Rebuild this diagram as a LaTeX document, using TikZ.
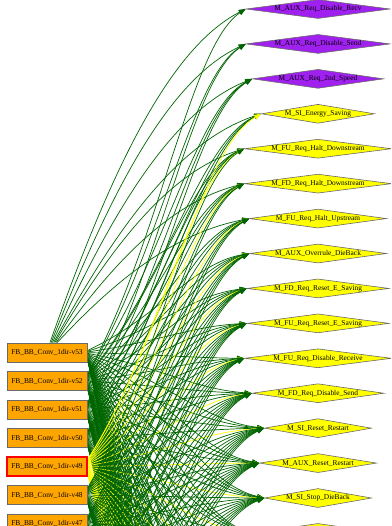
\documentclass[tikz,border=0pt]{standalone}
\usepackage{fontspec}
\setmainfont{Liberation Serif}
\usetikzlibrary{shapes.geometric,arrows.meta}
\pgfdeclarelayer{wires}
\pgfsetlayers{wires,main}
\definecolor{fbfill}{HTML}{FFA500}
\definecolor{lineg}{HTML}{006400}
\definecolor{liney}{HTML}{FFFF00}
\definecolor{purp}{HTML}{A020F0}
\definecolor{yel}{HTML}{FFFF00}
\definecolor{rim}{HTML}{6A6A6A}
\tikzset{
  lbl/.style={font=\fontsize{7.4}{8}\selectfont},
  fb/.style={lbl, rectangle, draw=rim, line width=0.9pt, fill=fbfill,
    minimum width=80pt, minimum height=19pt, inner sep=0pt},
  cond/.style={lbl, diamond, draw=rim, line width=0.6pt, fill=yel,
    aspect=8, inner xsep=0pt, inner ysep=-2pt, minimum height=19pt},
  aux/.style={cond, fill=purp},
  gline/.style={line width=0.7pt, -{Triangle[length=7pt,width=5pt]}}
}
% widths of the condition diamonds, by row
\def\wl{{144,144,131,113,147,147,137,137,142,142,147,132,107,117,107,130,144,144,144,144,144,144,144,144,144,144,144,144,144,144,144,144,144,144,144,144,144}}
\begin{document}
\begin{tikzpicture}[x=1pt,y=-1pt]
\useasboundingbox (0,0) rectangle (391,526);
\clip (0,0) rectangle (391,526);

% function blocks
\node[fb] (b0) at (47,352.5) {FB\_BB\_Conv\_1dir-v53};
\node[fb] (b1) at (47,381)   {FB\_BB\_Conv\_1dir-v52};
\node[fb] (b2) at (47,409.5) {FB\_BB\_Conv\_1dir-v51};
\node[fb] (b3) at (47,438)   {FB\_BB\_Conv\_1dir-v50};
\node[fb, draw=red, line width=1.1pt] (b4) at (47,466.5) {FB\_BB\_Conv\_1dir-v49};
\node[fb] (b5) at (47,495)   {FB\_BB\_Conv\_1dir-v48};
\node[fb] (b6) at (47,523.5) {FB\_BB\_Conv\_1dir-v47};
\foreach \j in {7,...,14} \coordinate (b\j) at (87,{352.5+28.5*\j});

% conditions
\node[aux,  minimum width=144pt] (t0)  at (318,9)      {M\_AUX\_Req\_Disable\_Recv};
\node[aux,  minimum width=144pt] (t1)  at (318,43.93)  {M\_AUX\_Req\_Disable\_Send};
\node[aux,  minimum width=131pt] (t2)  at (318,78.86)  {M\_AUX\_Req\_2nd\_Speed};
\node[cond, minimum width=113pt] (t3)  at (318,113.79) {M\_SI\_Energy\_Saving};
\node[cond, minimum width=147pt] (t4)  at (318,148.72) {M\_FU\_Req\_Halt\_Downstream};
\node[cond, minimum width=147pt] (t5)  at (318,183.65) {M\_FD\_Req\_Halt\_Downstream};
\node[cond, minimum width=137pt] (t6)  at (318,218.58) {M\_FU\_Req\_Halt\_Upstream};
\node[cond, minimum width=137pt] (t7)  at (318,253.51) {M\_AUX\_Overrule\_DieBack};
\node[cond, minimum width=142pt] (t8)  at (318,288.44) {M\_FD\_Req\_Reset\_E\_Saving};
\node[cond, minimum width=142pt] (t9)  at (318,323.37) {M\_FU\_Req\_Reset\_E\_Saving};
\node[cond, minimum width=147pt] (t10) at (318,358.3)  {M\_FU\_Req\_Disable\_Receive};
\node[cond, minimum width=132pt] (t11) at (318,393.23) {M\_FD\_Req\_Disable\_Send};
\node[cond, minimum width=107pt] (t12) at (318,428.16) {M\_SI\_Reset\_Restart};
\node[cond, minimum width=117pt] (t13) at (318,463.09) {M\_AUX\_Reset\_Restart};
\node[cond, minimum width=107pt] (t14) at (318,498.02) {M\_SI\_Stop\_DieBack};
\node[cond, minimum width=130pt] (t15) at (318,532.95) {};
\foreach \i in {16,...,36} \coordinate (t\i) at (246,{9+34.93*\i});

% connections, drawn beneath the nodes
\begin{pgfonlayer}{wires}
\clip (0,0) rectangle (391,526);
\foreach \j in {0,...,14}{
  \foreach \i in {0,...,36}{
    \pgfmathtruncatemacro\ok{and(\j<=\i+1, or(\j<7,\i<16))}
    \ifnum\ok=1
      \pgfmathsetmacro\ys{352.5+28.5*\j}
      \pgfmathsetmacro\yt{9+34.93*\i}
      \pgfmathsetmacro\xt{318-0.5*\wl[\i]}
      \ifnum\j=4 \def\ecol{liney}\else\def\ecol{lineg}\fi
      \pgfmathtruncatemacro\fromtop{and(\j==0,\yt<250)}
      \ifnum\fromtop=1
        \pgfmathsetmacro\ox{3+1.2*\i}
        \pgfmathsetmacro\sx{47+\ox}
        \def\sy{343}
        \pgfmathsetmacro\ddx{\xt-\sx}
        \pgfmathsetmacro\ddy{\yt-\sy}
        \pgfmathsetmacro\cax{\sx+0.3*\ddx}
        \pgfmathsetmacro\cay{\sy+0.5*\ddy}
        \pgfmathsetmacro\cbx{\xt-0.4*\ddx}
        \pgfmathsetmacro\cby{\yt-0.12*\ddy}
        \draw[gline, color=\ecol] ([xshift=\ox pt]b0.north) .. controls (\cax,\cay) and (\cbx,\cby) .. (t\i.180);
      \else
        \pgfmathsetmacro\oy{max(-7,min(7,-0.02*(\yt-\ys)))}
        \def\sx{87}
        \pgfmathsetmacro\sy{\ys-\oy}
        \pgfmathsetmacro\ddx{\xt-\sx}
        \pgfmathsetmacro\ddy{\yt-\sy}
        \pgfmathsetmacro\cax{\sx+0.45*\ddx}
        \pgfmathsetmacro\cay{\sy+0.35*\ddy}
        \pgfmathsetmacro\cbx{\xt-0.35*\ddx}
        \pgfmathsetmacro\cby{\yt-0.1*\ddy}
        \draw[gline, color=\ecol] ([yshift=\oy pt]b\j.0) .. controls (\cax,\cay) and (\cbx,\cby) .. (t\i.180);
      \fi
    \fi
  }
}
\end{pgfonlayer}
\end{tikzpicture}
\end{document}
